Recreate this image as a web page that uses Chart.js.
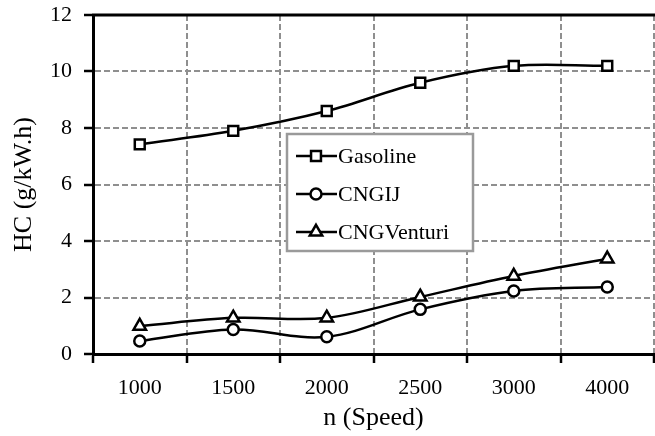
<!DOCTYPE html>
<html><head><meta charset="utf-8">
<script src="https://cdn.jsdelivr.net/npm/chart.js@4/dist/chart.umd.min.js"></script>
<style>html,body{margin:0;padding:0;background:#fff}#wrap{width:655px;height:436px}</style>
</head><body><div id="wrap"><canvas id="c" width="655" height="436"></canvas></div>
<script>
const categories = ['1000', '1500', '2000', '2500', '3000', '4000'];
const gasoline = [7.42, 7.9, 8.6, 9.6, 10.2, 10.2];
const cngij = [0.46, 0.87, 0.61, 1.58, 2.23, 2.37];
const cngVenturi = [0.99, 1.28, 1.28, 2.02, 2.76, 3.37];
const seriesNames = ['Gasoline', 'CNGIJ', 'CNGVenturi'];
const yTicks = [0, 2, 4, 6, 8, 10, 12];

const FONT = "'Liberation Serif', 'Times New Roman', serif";

function ds(label, data, style, r) {
  return { label, data, borderColor: '#000', backgroundColor: '#fff', borderWidth: 2.5,
    pointStyle: style, pointRadius: r, pointHoverRadius: r, pointBorderWidth: 2.5,
    pointBackgroundColor: '#fff', pointBorderColor: '#000', tension: 0.35, fill: false };
}

const frame = {
  id: 'frame',
  afterDatasetsDraw(chart) {
    const { ctx, chartArea: a } = chart;
    ctx.save();
    ctx.strokeStyle = '#000'; ctx.lineWidth = 3;
    ctx.beginPath(); ctx.moveTo(a.left - 1, a.top); ctx.lineTo(a.right + 2, a.top); ctx.stroke();
    // legend box
    const L = a.left + 194, T = a.top + 119, W = 186, H = 117;
    ctx.fillStyle = '#fff'; ctx.fillRect(L, T, W, H);
    ctx.strokeStyle = '#9a9a9a'; ctx.lineWidth = 2.5; ctx.strokeRect(L, T, W, H);
    const rows = [22, 60, 98];
    chart.data.datasets.forEach((d, i) => {
      const y = T + rows[i];
      ctx.strokeStyle = '#000'; ctx.lineWidth = 2.5;
      ctx.beginPath(); ctx.moveTo(L + 9, y); ctx.lineTo(L + 50, y); ctx.stroke();
      ctx.fillStyle = '#fff'; ctx.strokeStyle = '#000'; ctx.lineWidth = 2.5;
      Chart.helpers.drawPoint(ctx, { pointStyle: d.pointStyle, radius: d.pointRadius, borderWidth: 2.5, rotation: 0 }, L + 29, y);
      ctx.fillStyle = '#000'; ctx.font = '22px ' + FONT; ctx.textBaseline = 'middle'; ctx.textAlign = 'left';
      ctx.fillText(d.label, L + 51, y + 1);
    });
    ctx.restore();
  }
};

new Chart(document.getElementById('c'), {
  type: 'line',
  data: { labels: categories, datasets: [
    ds(seriesNames[0], gasoline, 'rect', 7),
    ds(seriesNames[1], cngij, 'circle', 5.5),
    ds(seriesNames[2], cngVenturi, 'triangle', 7.2)
  ]},
  options: {
    responsive: false, animation: false,
    layout: { autoPadding: false, padding: { top: 15, right: 1, left: 0, bottom: 0 } },
    plugins: { legend: { display: false }, tooltip: { enabled: false } },
    scales: {
      x: {
        offset: true,
        grid: { offset: true, color: '#8f8f8f', lineWidth: 2, tickColor: '#000', tickLength: 9, tickWidth: 2.5 },
        border: { color: '#000', width: 3, dash: [6, 3] },
        ticks: { color: '#000', font: { family: FONT, size: 22 }, padding: 12, maxRotation: 0 },
        title: { display: true, text: 'n (Speed)', color: '#000', font: { family: FONT, size: 26 }, padding: { top: 2, bottom: 2 } },
        afterFit(s) { s.height = 82; s.paddingLeft = 0; s.paddingRight = 0; }
      },
      y: {
        min: 0, max: 12,
        afterBuildTicks(s) { s.ticks = yTicks.map(v => ({ value: v })); },
        grid: { color: '#8f8f8f', lineWidth: 2, tickColor: '#000', tickLength: 9, tickWidth: 2.5 },
        border: { color: '#000', width: 3, dash: [6, 3] },
        ticks: { color: '#000', font: { family: FONT, size: 22 }, padding: 12 },
        title: { display: true, text: 'HC (g/kW.h)', color: '#000', font: { family: FONT, size: 26 }, padding: { top: 9, bottom: 9 } },
        afterFit(s) { s.width = 93; s.paddingTop = 0; s.paddingBottom = 0; }
      }
    }
  },
  plugins: [frame]
});
</script></body></html>
